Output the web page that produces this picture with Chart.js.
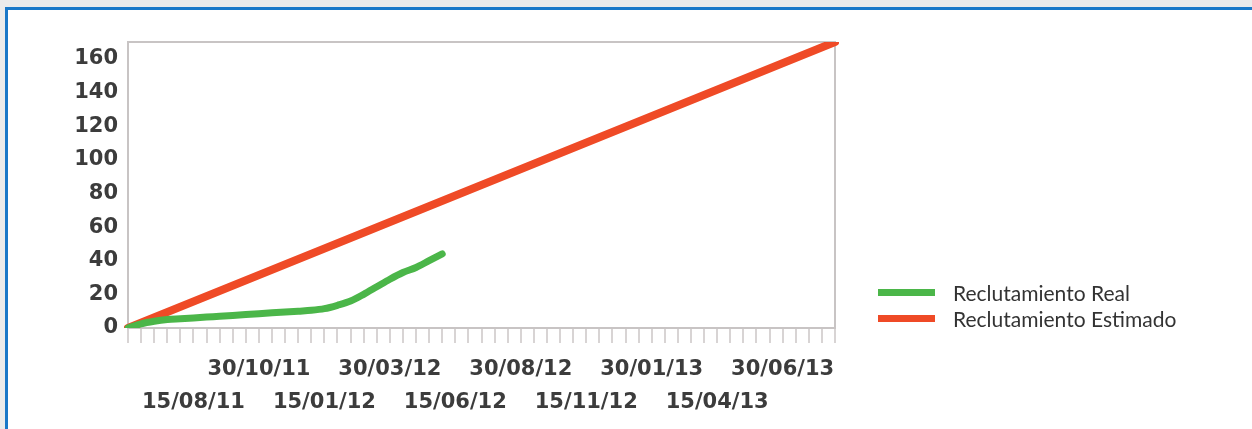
<!DOCTYPE html>
<html>
<head>
<meta charset="utf-8">
<script src="https://cdn.jsdelivr.net/npm/chart.js@4/dist/chart.umd.min.js"></script>
<style>
  html, body { margin: 0; padding: 0; background: #ebebeb; }
  #frame {
    position: absolute; left: 5px; top: 7px; width: 1260px; height: 440px;
    background: #fff; border-top: 3px solid #1a78c8; border-left: 3px solid #1a78c8;
  }
  #wrap { position: absolute; left: 0; top: 0; width: 1252px; height: 429px; }
  #legend {
    position: absolute; left: 878px; top: 279px;
    font-family: Lato, "Open Sans", sans-serif; font-size: 21px; color: #333;
  }
  #legend div { height: 26px; display: flex; align-items: center; }
  #legend span.sw { display: inline-block; width: 57px; height: 7px; margin-right: 18px; }
</style>
</head>
<body>
<div id="frame"></div>
<div id="wrap"><canvas id="chart1" width="1252" height="429"></canvas></div>
<div id="legend"></div>
<script>
// half-month dates along the x axis
var fechas = [
  '30/05/11', '15/06/11', '30/06/11', '15/07/11', '30/07/11',
  '15/08/11', '30/08/11', '15/09/11', '30/09/11', '15/10/11',
  '30/10/11', '15/11/11', '30/11/11', '15/12/11', '30/12/11',
  '15/01/12', '30/01/12', '15/02/12', '29/02/12', '15/03/12',
  '30/03/12', '15/04/12', '30/04/12', '15/05/12', '30/05/12',
  '15/06/12', '30/06/12', '15/07/12', '30/07/12', '15/08/12',
  '30/08/12', '15/09/12', '30/09/12', '15/10/12', '30/10/12',
  '15/11/12', '30/11/12', '15/12/12', '30/12/12', '15/01/13',
  '30/01/13', '15/02/13', '28/02/13', '15/03/13', '30/03/13',
  '15/04/13', '30/04/13', '15/05/13', '30/05/13', '15/06/13',
  '30/06/13', '15/07/13', '30/07/13', '15/08/13', '30/08/13'
];

// actual recruitment, one value per half month
var reclutamientoReal = [
  0, 2.5, 4, 5, 5.5, 6, 6.5, 7, 7.5, 8, 8.5, 9, 9.5,
  10, 10.5, 11.5, 13.5, 16, 20, 24.5, 29, 33, 36, 40, 44
];

// estimated recruitment: straight line from start to end
var estimadoFechas = ['30/05/11', '30/08/13'];
var estimadoValores = [0, 170];

var yTicks = [0, 20, 40, 60, 80, 100, 120, 140, 160];
var yMax = 170;

var nombres = ['Reclutamiento Real', 'Reclutamiento Estimado'];
var colores = ['#4bb649', '#ef4a26'];

var tickFont = { family: 'DejaVu Sans', size: 21, weight: 'bold', lineHeight: 1.58 };

var ctx1 = document.getElementById('chart1').getContext('2d');

// border around the plot area
var marco = {
  id: 'marco',
  beforeDatasetsDraw: function(chart) {
    var a = chart.chartArea, c = chart.ctx;
    c.save();
    c.strokeStyle = '#c8c4c4';
    c.lineWidth = 2;
    c.strokeRect(a.left, a.top, a.right - a.left, a.bottom - a.top);
    c.restore();
  }
};

var chart1 = new Chart(ctx1, {
  type: 'line',
  data: {
    labels: fechas,
    datasets: [{
      label: nombres[0],
      data: reclutamientoReal,
      borderColor: colores[0],
      borderWidth: 7,
      tension: 0.4,
      cubicInterpolationMode: 'monotone',
      pointRadius: 0,
      borderCapStyle: 'round'
    }, {
      label: nombres[1],
      data: estimadoFechas.map(function(f, i) { return { x: f, y: estimadoValores[i] }; }),
      borderColor: colores[1],
      borderWidth: 8,
      pointRadius: 0,
      borderCapStyle: 'round'
    }]
  },
  options: {
    responsive: false,
    animation: false,
    layout: { padding: { left: 20, top: 42, right: 417, bottom: 11 } },
    plugins: { legend: { display: false }, tooltip: { enabled: false } },
    scales: {
      x: {
        offset: false,
        afterFit: function(s) { s.height = 90; },
        grid: { drawOnChartArea: false, color: '#d8d4d4', tickLength: 15, lineWidth: 2 },
        border: { color: '#c8c4c4', width: 2 },
        ticks: {
          autoSkip: false,
          maxRotation: 0,
          padding: 10,
          color: '#3c3c3c',
          font: tickFont,
          callback: function(v, i) {
            if (i === 0 || i % 5 !== 0) return '';
            // labels alternate between two rows
            return (i / 5) % 2 === 1 ? ['', fechas[i]] : [fechas[i], ''];
          }
        }
      },
      y: {
        min: 0,
        max: yMax,
        afterFit: function(s) { s.width = 108; },
        afterBuildTicks: function(s) { s.ticks = yTicks.map(function(v) { return { value: v }; }); },
        grid: { drawOnChartArea: false, drawTicks: false },
        border: { color: '#c8c4c4', width: 2 },
        ticks: { autoSkip: false, padding: 10, color: '#3c3c3c', font: tickFont }
      }
    }
  },
  plugins: [marco]
});

// legend on the right
var leg = document.getElementById('legend');
chart1.data.datasets.forEach(function(ds) {
  var row = document.createElement('div');
  row.innerHTML = '<span class="sw" style="background:' + ds.borderColor + '"></span>' + ds.label;
  leg.appendChild(row);
});
</script>
</body>
</html>
